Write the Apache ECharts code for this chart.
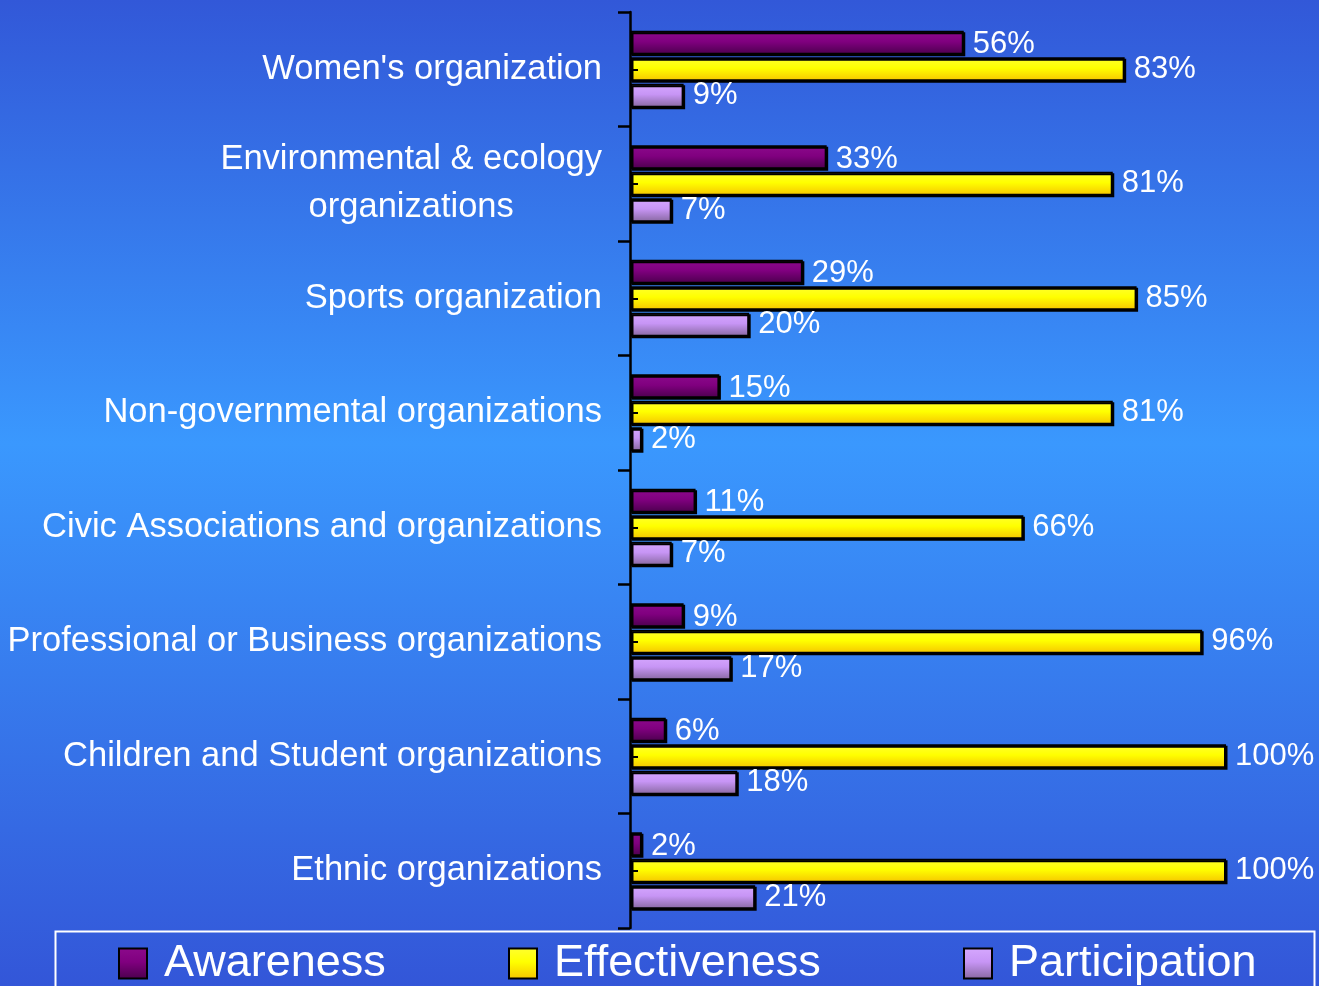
<!DOCTYPE html>
<html>
<head>
<meta charset="utf-8">
<script src="https://cdn.jsdelivr.net/npm/echarts@6/dist/echarts.min.js"></script>
<style>
  html, body { margin: 0; padding: 0; }
  #chart { width: 1319px; height: 986px; }
</style>
</head>
<body>
<div id="chart"></div>
<script>
// Organization types (top to bottom)
const categories = [
  "Women's organization",
  "Environmental & ecology\norganizations",
  "Sports organization",
  "Non-governmental organizations",
  "Civic Associations and organizations",
  "Professional or Business organizations",
  "Children and Student organizations",
  "Ethnic organizations"
];
const seriesNames = ['Awareness', 'Effectiveness', 'Participation'];
const awareness = [56, 33, 29, 15, 11, 9, 6, 2];
const effectiveness = [83, 81, 85, 81, 66, 96, 100, 100];
const participation = [9, 7, 20, 2, 7, 17, 18, 21];

const FONT = 'Liberation Sans, Arial, sans-serif';
const grad = (a, b, c) => new echarts.graphic.LinearGradient(0, 0, 0, 1, [
  { offset: 0, color: a }, { offset: 0.45, color: b }, { offset: 1, color: c }
]);

// bars: vertical shading, black frame with a slight drop edge
const barStyle = (fill) => ({
  color: fill,
  borderColor: '#000',
  borderWidth: 2,
  shadowColor: '#000',
  shadowBlur: 0,
  shadowOffsetX: 1.5,
  shadowOffsetY: 1.5
});

const valueLabel = (dy) => ({
  show: true,
  position: 'right',
  distance: 9,
  offset: [0, dy],
  formatter: '{c}%',
  color: '#fff',
  fontSize: 31,
  fontFamily: FONT
});

const chart = echarts.init(document.getElementById('chart'));

const legendBase = {
  top: 941,
  padding: 0,
  icon: 'rect',
  itemWidth: 28,
  itemHeight: 30,
  textStyle: { color: '#fff', fontSize: 45, fontFamily: FONT, padding: [0, 0, 0, 12] }
};

chart.setOption({
  backgroundColor: new echarts.graphic.LinearGradient(0, 0, 0, 1, [
    { offset: 0, color: '#3258d8' },
    { offset: 0.45, color: '#3a98fe' },
    { offset: 1, color: '#3356d8' }
  ]),
  animation: false,
  grid: { left: 630, top: 12, width: 596, height: 916, containLabel: false },
  xAxis: {
    type: 'value', min: 0, max: 100,
    axisLine: { show: false }, axisTick: { show: false },
    axisLabel: { show: false }, splitLine: { show: false }
  },
  yAxis: [{
    type: 'category',
    data: categories,
    inverse: true,
    axisLine: { show: true, lineStyle: { color: '#000', width: 2.5 } },
    axisTick: { show: true, length: 12, lineStyle: { color: '#000', width: 2.5 } },
    axisLabel: {
      margin: 28,
      formatter: v => v.split('\n').map(l => '{c|' + l + '}').join('\n'),
      rich: { c: { align: 'center', color: '#fff', fontSize: 34.5, lineHeight: 48, fontFamily: FONT } }
    }
  }, {
    // short inner marks at each category centre
    type: 'category',
    data: categories,
    inverse: true,
    position: 'left',
    z: 10,
    axisLine: { show: false },
    axisTick: { show: true, inside: true, alignWithLabel: true, length: 8, lineStyle: { color: '#000', width: 2 } },
    axisLabel: { show: false }
  }],
  legend: [
    Object.assign({ left: 118, data: [seriesNames[0]] }, legendBase),
    Object.assign({ left: 508, data: [seriesNames[1]] }, legendBase),
    Object.assign({ left: 963, data: [seriesNames[2]] }, legendBase)
  ],
  graphic: [{
    type: 'rect',
    left: 53, top: 929,
    shape: { width: 1259, height: 80 },
    style: { fill: 'none', stroke: '#fff', lineWidth: 2 },
    z: 0
  }],
  series: [{
    name: seriesNames[0], type: 'bar', data: awareness,
    barWidth: 24, barGap: '10%',
    itemStyle: barStyle(grad('#8c0a8c', '#80007f', '#4a004c')),
    label: valueLabel(2)
  }, {
    name: seriesNames[1], type: 'bar', data: effectiveness,
    barWidth: 24, barGap: '10%',
    itemStyle: barStyle(grad('#ffff30', '#ffff00', '#f5c400')),
    label: valueLabel(0)
  }, {
    name: seriesNames[2], type: 'bar', data: participation,
    barWidth: 24, barGap: '10%',
    itemStyle: barStyle(grad('#d6a8ff', '#c795f5', '#86679e')),
    label: valueLabel(0)
  }]
});
</script>
</body>
</html>
